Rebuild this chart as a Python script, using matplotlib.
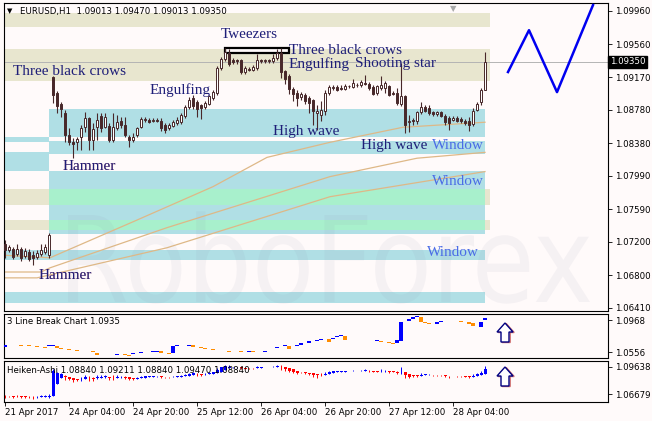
import numpy as np
import matplotlib
matplotlib.use("Agg")
import matplotlib.pyplot as plt
from matplotlib.patches import Rectangle, Polygon, PathPatch
from matplotlib.textpath import TextPath
from matplotlib.font_manager import FontProperties
from matplotlib.transforms import Affine2D, IdentityTransform, offset_copy

# ---------------- data (EURUSD H1) ----------------
opens = [1.0718, 1.0710, 1.0712, 1.0705, 1.0711, 1.0703, 1.0708, 1.0704, 1.0702, 1.0706, 1.0708, 1.0704,
         1.0917, 1.0898, 1.0885, 1.0874, 1.0848, 1.0839, 1.0839, 1.0845, 1.0857, 1.0868, 1.0842, 1.0857,
         1.0870, 1.0857, 1.0858, 1.0842, 1.0856, 1.0865, 1.0860, 1.0845, 1.0842, 1.0848, 1.0857, 1.0866,
         1.0866, 1.0865, 1.0866, 1.0865, 1.0860, 1.0856, 1.0859, 1.0862, 1.0863, 1.0870, 1.0881, 1.0892,
         1.0887, 1.0883, 1.0881, 1.0885, 1.0892, 1.0898, 1.0928, 1.0939, 1.0946, 1.0937, 1.0937, 1.0937,
         1.0923, 1.0927, 1.0926, 1.0928, 1.0937, 1.0936, 1.0937, 1.0936, 1.0940, 1.0946, 1.0924, 1.0918,
         1.0903, 1.0898, 1.0893, 1.0895, 1.0892, 1.0889, 1.0874, 1.0872, 1.0876, 1.0898, 1.0904, 1.0905,
         1.0904, 1.0903, 1.0906, 1.0905, 1.0908, 1.0907, 1.0910, 1.0909, 1.0905, 1.0898, 1.0904, 1.0904,
         1.0906, 1.0898, 1.0898, 1.0885, 1.0894, 1.0863, 1.0866, 1.0864, 1.0875, 1.0881, 1.0880, 1.0875,
         1.0873, 1.0875, 1.0871, 1.0868, 1.0866, 1.0868, 1.0867, 1.0865, 1.0864, 1.0861, 1.0878, 1.0887,
         1.09013]
highs = [1.0722, 1.0716, 1.0714, 1.0717, 1.0714, 1.0713, 1.0712, 1.0709, 1.0710, 1.0717, 1.0717, 1.0731,
         1.0918, 1.0900, 1.0887, 1.0878, 1.0856, 1.0844, 1.0845, 1.0860, 1.0875, 1.0869, 1.0862, 1.0874,
         1.0874, 1.0874, 1.0862, 1.0874, 1.0872, 1.0869, 1.0869, 1.0848, 1.0850, 1.0857, 1.0869, 1.0869,
         1.0868, 1.0868, 1.0868, 1.0868, 1.0862, 1.0862, 1.0866, 1.0869, 1.0874, 1.0884, 1.0893, 1.0895,
         1.0890, 1.0885, 1.0888, 1.0896, 1.0901, 1.0930, 1.0941, 1.0952, 1.0950, 1.0940, 1.0939, 1.0939,
         1.0930, 1.0929, 1.0931, 1.0945, 1.0939, 1.0939, 1.0939, 1.0944, 1.0950, 1.0952, 1.0926, 1.0921,
         1.0905, 1.0901, 1.0899, 1.0898, 1.0894, 1.0891, 1.0884, 1.0888, 1.0901, 1.0908, 1.0908, 1.0907,
         1.0907, 1.0909, 1.0908, 1.0915, 1.0910, 1.0913, 1.0920, 1.0911, 1.0907, 1.0908, 1.0918, 1.0912,
         1.0908, 1.0900, 1.0904, 1.0934, 1.0895, 1.0872, 1.0868, 1.0877, 1.0887, 1.0884, 1.0883, 1.0877,
         1.0877, 1.0877, 1.0873, 1.0871, 1.0870, 1.0870, 1.0869, 1.0867, 1.0869, 1.0880, 1.0887, 1.0904,
         1.09470]
lows = [1.0701, 1.0708, 1.0700, 1.0703, 1.0697, 1.0701, 1.0697, 1.0692, 1.0699, 1.0703, 1.0705, 1.0701,
        1.0886, 1.0874, 1.0869, 1.0839, 1.0836, 1.0820, 1.0830, 1.0830, 1.0851, 1.0830, 1.0830, 1.0842,
        1.0851, 1.0856, 1.0839, 1.0839, 1.0854, 1.0856, 1.0845, 1.0833, 1.0839, 1.0845, 1.0856, 1.0863,
        1.0862, 1.0863, 1.0863, 1.0853, 1.0850, 1.0854, 1.0857, 1.0860, 1.0861, 1.0868, 1.0879, 1.0879,
        1.0869, 1.0867, 1.0879, 1.0883, 1.0890, 1.0896, 1.0926, 1.0936, 1.0930, 1.0932, 1.0933, 1.0921,
        1.0921, 1.0924, 1.0924, 1.0926, 1.0934, 1.0934, 1.0934, 1.0934, 1.0937, 1.0916, 1.0909, 1.0897,
        1.0888, 1.0882, 1.0890, 1.0885, 1.0874, 1.0860, 1.0854, 1.0865, 1.0872, 1.0896, 1.0902, 1.0900,
        1.0901, 1.0901, 1.0904, 1.0904, 1.0905, 1.0905, 1.0907, 1.0902, 1.0895, 1.0895, 1.0902, 1.0898,
        1.0894, 1.0895, 1.0884, 1.0882, 1.0850, 1.0851, 1.0860, 1.0861, 1.0873, 1.0875, 1.0872, 1.0871,
        1.0871, 1.0869, 1.0860, 1.0854, 1.0864, 1.0863, 1.0862, 1.0860, 1.0853, 1.0859, 1.0876, 1.0884,
        1.09013]
closes = [1.0710, 1.0714, 1.0702, 1.0712, 1.0701, 1.0709, 1.0699, 1.0701, 1.0707, 1.0710, 1.0714, 1.0728,
          1.0896, 1.0882, 1.0879, 1.0848, 1.0839, 1.0837, 1.0843, 1.0856, 1.0868, 1.0842, 1.0855, 1.0866,
          1.0856, 1.0869, 1.0842, 1.0857, 1.0863, 1.0860, 1.0848, 1.0842, 1.0845, 1.0856, 1.0867, 1.0867,
          1.0863, 1.0866, 1.0865, 1.0856, 1.0854, 1.0860, 1.0863, 1.0866, 1.0872, 1.0881, 1.0889, 1.0882,
          1.0879, 1.0880, 1.0886, 1.0894, 1.0899, 1.0928, 1.0939, 1.0947, 1.0933, 1.0935, 1.0936, 1.0923,
          1.0928, 1.0926, 1.0929, 1.0937, 1.0936, 1.0937, 1.0936, 1.0940, 1.0946, 1.0923, 1.0915, 1.0903,
          1.0897, 1.0892, 1.0897, 1.0888, 1.0886, 1.0876, 1.0876, 1.0878, 1.0898, 1.0905, 1.0905, 1.0902,
          1.0903, 1.0906, 1.0906, 1.0910, 1.0907, 1.0911, 1.0909, 1.0904, 1.0897, 1.0906, 1.0907, 1.0910,
          1.0896, 1.0897, 1.0886, 1.0894, 1.0860, 1.0865, 1.0864, 1.0875, 1.0881, 1.0877, 1.0874, 1.0873,
          1.0875, 1.0871, 1.0863, 1.0862, 1.0868, 1.0865, 1.0864, 1.0862, 1.0860, 1.0877, 1.0885, 1.0901,
          1.09350]

# moving averages (read at a few bars)
ma1_x = [0, 11.25, 32, 52, 65.5, 81.25, 99.5, 120]
ma1_y = [1.0704, 1.0701, 1.0744, 1.0786, 1.0821, 1.0839, 1.0857, 1.0863]
ma2_x = [0, 9, 11.25, 40.5, 81.25, 103, 120]
ma2_y = [1.0684, 1.0684, 1.0689, 1.0737, 1.0798, 1.0820, 1.0827]
ma3_x = [0, 8, 40.5, 81.25, 120]
ma3_y = [1.0677, 1.0677, 1.0713, 1.0774, 1.0804]

# forecast zigzag
zz_x = [125.75, 131, 138, 147]
zz_y = [1.0923, 1.0973, 1.0899, 1.1003]

# zones (price ranges)
beige_zones = [(1.09768, 1.09936), (1.09123, 1.09505), (1.07641, 1.07832), (1.07342, 1.07461)]
blue_zones_main = [(1.08454, 1.08788), (1.08250, 1.08406), (1.07294, 1.08047)]
blue_zones_left = [(1.08394, 1.08454), (1.08047, 1.08274)]
blue_zones_full = [(1.06984, 1.07103), (1.06469, 1.06601)]

# pattern labels: (bar, price, text, colour key)
labels = [(2, 1.09242, "Three black crows", "n"),
          (54, 1.09673, "Tweezers", "n"),
          (71, 1.09483, "Three black crows", "n"),
          (71, 1.09326, "Engulfing", "n"),
          (87.5, 1.09326, "Shooting star", "n"),
          (36.25, 1.09015, "Engulfing", "n"),
          (67, 1.08525, "High wave", "n"),
          (89, 1.08346, "High wave", "n"),
          (106.75, 1.08346, "Window", "w"),
          (106.75, 1.07923, "Window", "w"),
          (105.5, 1.07079, "Window", "w"),
          (14.5, 1.08095, "Hammer", "h"),
          (8.5, 1.06804, "Hammer", "h")]

tweezers_box = (55, 71, 1.0946, 1.0952)

main_ticks = [1.09960, 1.09560, 1.09170, 1.08780, 1.08380, 1.07990, 1.07590, 1.07200, 1.06800, 1.06410]
last_price = 1.09350

# 3 line break blocks
lb_i = [0, 4, 6, 8, 10, 11, 12, 13, 14, 16, 18, 22, 23, 28, 30, 31, 32, 34, 37, 38, 39, 41, 42, 43, 46,
        47, 49, 50, 52, 56, 59, 61, 62, 65, 68, 70, 71, 73, 74, 76, 78, 79, 81, 82, 83, 84, 85, 93, 94, 96,
        97, 98, 99, 101, 102, 103, 104, 105, 106, 108, 109, 114, 116, 117, 119, 120]
lb_hi = [1.0646, 1.0646, 1.0646, 1.0633, 1.0620, 1.0646, 1.0650, 1.0633, 1.0607, 1.0594, 1.0582, 1.0569,
         1.0543, 1.0530, 1.0526, 1.0517, 1.0547, 1.0556, 1.0564, 1.0572, 1.0569, 1.0547, 1.0629, 1.0642,
         1.0650, 1.0642, 1.0624, 1.0607, 1.0590, 1.0569, 1.0569, 1.0572, 1.0569, 1.0572, 1.0620, 1.0642,
         1.0629, 1.0642, 1.0672, 1.0693, 1.0711, 1.0727, 1.0727, 1.0740, 1.0758, 1.0771, 1.0758, 1.0711,
         1.0693, 1.0680, 1.0672, 1.0707, 1.0942, 1.0985, 1.1010, 1.1020, 1.1007, 1.0942, 1.0933, 1.0942,
         1.0955, 1.0955, 1.0942, 1.0929, 1.0942, 1.0994]
lb_lo = [1.0620, 1.0633, 1.0633, 1.0620, 1.0607, 1.0633, 1.0637, 1.0607, 1.0594, 1.0582, 1.0569, 1.0556,
         1.0517, 1.0517, 1.0513, 1.0504, 1.0526, 1.0543, 1.0551, 1.0559, 1.0543, 1.0534, 1.0543, 1.0629,
         1.0637, 1.0624, 1.0611, 1.0598, 1.0577, 1.0560, 1.0560, 1.0559, 1.0556, 1.0551, 1.0607, 1.0629,
         1.0598, 1.0629, 1.0650, 1.0676, 1.0693, 1.0711, 1.0685, 1.0727, 1.0745, 1.0758, 1.0707, 1.0702,
         1.0680, 1.0667, 1.0659, 1.0672, 1.0693, 1.0951, 1.0985, 1.1003, 1.0942, 1.0925, 1.0920, 1.0920,
         1.0942, 1.0942, 1.0920, 1.0891, 1.0878, 1.0964]
lb_up = [1, 0, 0, 0, 0, 1, 1, 0, 0, 0, 0, 0, 0, 1, 0, 0, 1, 1, 1, 1, 0, 0, 1, 1, 1,
         0, 0, 0, 0, 0, 0, 1, 0, 1, 1, 1, 0, 1, 1, 1, 1, 1, 0, 1, 1, 1, 0, 1, 0, 0,
         0, 1, 1, 1, 1, 1, 0, 0, 0, 1, 1, 0, 0, 0, 1, 1]

time_ticks = [0, 16, 32, 48, 64, 80, 96, 112]
time_labels = ["21 Apr 2017", "24 Apr 04:00", "24 Apr 20:00", "25 Apr 12:00",
               "26 Apr 04:00", "26 Apr 20:00", "27 Apr 12:00", "28 Apr 04:00"]

lb_ticks = [1.0968, 1.0556]
ha_tick_pos = [1.09373, 1.07283]
ha_tick_labels = ["1.09638", "1.06679"]

# ---------------- styling ----------------
W, H = 652, 421
BG = "#FFFAFA"
DARK = "#48282A"
NAVY = "#1E1E78"
WINC = "#4A6CE6"
BLUE_Z = "#B0DFE5"
BEIGE_Z = "#E8E6CF"
GREEN_Z = "#A8F0CC"
AX_FONT = "DejaVu Sans"
FS = 6.2

fig = plt.figure(figsize=(W / 100, H / 100), dpi=100, facecolor=BG)


def box(x0, y0, x1, y1):
    return fig.add_axes([x0 / W, 1 - y1 / H, (x1 - x0) / W, (y1 - y0) / H])


ax = box(4, 3, 608, 311)
ax2 = box(4, 314, 608, 358)
ax3 = box(4, 361, 608, 402)
for a in (ax, ax2, ax3):
    a.set_facecolor(BG)
    a.set_xlim(-0.25, 150.75)
    for s in a.spines.values():
        s.set_color("black")
        s.set_linewidth(0.8)
    a.yaxis.tick_right()
    a.tick_params(axis="y", direction="out", length=3, width=0.6, labelsize=FS, pad=2)
    a.set_xticks([])

# ---- main chart ----
ax.set_ylim(1.06374, 1.10055)
XL = -0.25
zone_right_beige = 121.25
zone_right_blue = 120.0
zone_left_blue = 11.0
for lo, hi in beige_zones:
    ax.add_patch(Rectangle((XL, lo), zone_right_beige - XL, hi - lo, fc=BEIGE_Z, ec="none", zorder=0.5))
for lo, hi in blue_zones_main:
    ax.add_patch(Rectangle((zone_left_blue, lo), zone_right_blue - zone_left_blue, hi - lo,
                           fc=BLUE_Z, ec="none", zorder=0.6))
    for blo, bhi in beige_zones:
        ilo, ihi = max(lo, blo), min(hi, bhi)
        if ihi > ilo:
            ax.add_patch(Rectangle((zone_left_blue, ilo), zone_right_blue - zone_left_blue, ihi - ilo,
                                   fc=GREEN_Z, ec="none", zorder=0.7))
for lo, hi in blue_zones_left:
    ax.add_patch(Rectangle((XL, lo), zone_left_blue - XL, hi - lo, fc=BLUE_Z, ec="none", zorder=0.6))
for lo, hi in blue_zones_full:
    ax.add_patch(Rectangle((XL, lo), zone_right_blue - XL, hi - lo, fc=BLUE_Z, ec="none", zorder=0.6))

# watermark
fp = FontProperties(family="DejaVu Sans")
tp = TextPath((0, 0), "RoboForex", size=100, prop=fp)
bb = tp.get_extents()
sx = (590 - 68) / bb.width
sy = 87 / 72.9
tr = Affine2D().translate(-bb.x0, 0).scale(sx, sy).translate(68, H - 302)
wm = PathPatch(tr.transform_path(tp), transform=IdentityTransform(), fc=(0.55, 0.55, 0.66),
               ec="none", alpha=0.08, zorder=1)
ax.add_patch(wm)

# moving averages
for mx, my in ((ma1_x, ma1_y), (ma2_x, ma2_y), (ma3_x, ma3_y)):
    ax.plot(mx, my, color="#DEB887", lw=0.9, zorder=2)

# current price line
ax.axhline(last_price, color="#B4B4B4", lw=0.7, zorder=2.5)

# tweezers box
t0, t1, tlo, thi = tweezers_box
ax.add_patch(Rectangle((t0, tlo), t1 - t0, thi - tlo, fc=BG, ec="black", lw=1.6, zorder=2.8))

# candles
o = np.array(opens); h = np.array(highs); l = np.array(lows); c = np.array(closes)
x = np.arange(len(o))
up = c >= o
ax.vlines(x, l, h, color=DARK, lw=0.8, zorder=3)
body_lo = np.minimum(o, c)
body_h = np.maximum(np.abs(c - o), 0.00003)
ax.bar(x, body_h, bottom=body_lo, width=0.7, color=np.where(up, "white", DARK),
       edgecolor=DARK, linewidth=0.7, zorder=4)

# forecast zigzag
ax.plot(zz_x, zz_y, color="#0000F0", lw=1.8, zorder=5)

# labels
for bx, py, txt, ck in labels:
    col = WINC if ck == "w" else NAVY
    if ck == "h":
        ax.text(bx, py, txt, fontfamily="Liberation Serif", fontsize=11, color="#E09090",
                ha="left", va="center", zorder=5.9,
                transform=offset_copy(ax.transData, fig=fig, x=-0.8, y=0.0, units="dots"))
    ax.text(bx, py, txt, fontfamily="Liberation Serif", fontsize=11, color=col,
            ha="left", va="center", zorder=6)

ax.set_yticks(main_ticks)
ax.set_yticklabels([f"{v:.5f}" for v in main_ticks], fontfamily=AX_FONT)
ax.text(1.003, last_price, f"{last_price:.5f}", transform=ax.get_yaxis_transform(), color="white",
        fontsize=FS, fontfamily=AX_FONT, va="center", ha="left", clip_on=False, zorder=10,
        bbox=dict(boxstyle="square,pad=0.22", fc="black", ec="black"))

ax.text(0.005, 0.974, "\u25BC", transform=ax.transAxes, fontsize=5, va="center", ha="left",
        fontfamily=AX_FONT)
ax.text(0.0265, 0.974, "EURUSD,H1  1.09013 1.09470 1.09013 1.09350", transform=ax.transAxes,
        fontsize=FS, fontfamily=AX_FONT, va="center", ha="left")
ax.text(0.743, 0.997, "\u25BC", transform=ax.transAxes, fontsize=6, color="#A8A8A8",
        va="top", ha="center", fontfamily=AX_FONT)

# ---- 3 line break ----
ax2.set_ylim(1.04788, 1.10453)
lb_hi_a = np.array(lb_hi); lb_lo_a = np.array(lb_lo)
ax2.bar(lb_i, lb_hi_a - lb_lo_a, bottom=lb_lo_a, width=0.95,
        color=np.where(np.array(lb_up) == 1, "#0000FF", "#FF8C00"), linewidth=0, zorder=3)
ax2.set_yticks(lb_ticks)
ax2.set_yticklabels([f"{v:.4f}" for v in lb_ticks], fontfamily=AX_FONT)
ax2.text(0.005, 0.82, "3 Line Break Chart 1.0935", transform=ax2.transAxes, fontsize=FS,
         fontfamily=AX_FONT, va="center", ha="left")

# ---- Heiken-Ashi ----
ha_c = (o + h + l + c) / 4
ha_o = np.empty_like(ha_c)
ha_o[0] = (o[0] + c[0]) / 2
for k in range(1, len(ha_c)):
    ha_o[k] = (ha_o[k - 1] + ha_c[k - 1]) / 2
ha_h = np.maximum.reduce([h, ha_o, ha_c])
ha_l = np.minimum.reduce([l, ha_o, ha_c])
ha_up = ha_c >= ha_o
ha_col = np.where(ha_up, "#0000FF", "#FF0000")
ax3.set_ylim(1.06664, 1.09837)
ax3.vlines(x, ha_l, ha_h, colors=ha_col, lw=0.7, zorder=3)
ax3.bar(x, np.maximum(np.abs(ha_c - ha_o), 0.00025), bottom=np.minimum(ha_o, ha_c), width=0.75,
        color=ha_col, linewidth=0, zorder=4)
ax3.set_yticks(ha_tick_pos)
ax3.set_yticklabels(ha_tick_labels, fontfamily=AX_FONT)
ax3.text(0.005, 0.78, "Heiken-Ashi 1.08840 1.09211 1.08840 1.09470 1.08840", transform=ax3.transAxes,
         fontsize=FS, fontfamily=AX_FONT, va="center", ha="left", zorder=6)

ax3.set_xticks(time_ticks)
ax3.set_xticklabels(time_labels, fontfamily=AX_FONT, fontsize=FS, ha="left")
ax3.tick_params(axis="x", direction="out", length=3, width=0.6, pad=1.2)


# up arrows (indicator signals)
def up_arrow(cx, ytop, ybase, ybot):
    pts = [(cx, ytop), (cx + 8, ybase), (cx + 4, ybase), (cx + 4, ybot), (cx - 4, ybot),
           (cx - 4, ybase), (cx - 8, ybase)]
    sh = [((px + 1.2) / W, 1 - (py + 0.5) / H) for px, py in pts]
    fig.patches.append(Polygon(sh, closed=True, transform=fig.transFigure, fc="none",
                               ec="#D07070", lw=1.0, zorder=5))
    fr = [(px / W, 1 - py / H) for px, py in pts]
    fig.patches.append(Polygon(fr, closed=True, transform=fig.transFigure, fc="white",
                               ec="#000080", lw=1.0, zorder=6))


up_arrow(505, 323, 332, 342)
up_arrow(505, 367, 376, 386)

fig.savefig("out.png", dpi=100, facecolor=BG)
